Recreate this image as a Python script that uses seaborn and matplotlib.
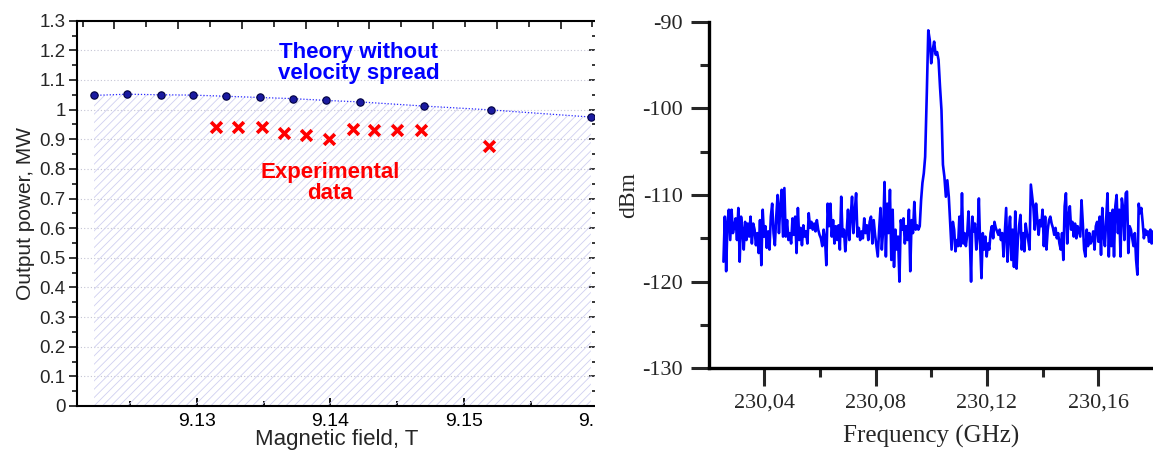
import numpy as np
import matplotlib
matplotlib.use('Agg')
import matplotlib.pyplot as plt
from matplotlib.ticker import MultipleLocator, FixedLocator, FuncFormatter
from matplotlib.patches import Rectangle
import seaborn as sns

# ---------------- left panel: output power vs magnetic field ----------------
theory_field = [9.1223, 9.1248, 9.1273, 9.1297, 9.1322, 9.1347,
                9.1372, 9.1397, 9.1422, 9.1470, 9.1520, 9.1595]
theory_power = [1.048, 1.052, 1.050, 1.049, 1.045, 1.041,
                1.037, 1.031, 1.026, 1.012, 0.999, 0.975]

exp_field = [9.1314, 9.1331, 9.1349, 9.1365, 9.1382, 9.1399,
             9.1417, 9.1433, 9.1450, 9.1468, 9.1519]
exp_power = [0.941, 0.941, 0.941, 0.922, 0.915, 0.900,
             0.936, 0.931, 0.931, 0.931, 0.877]

field_ticks = [9.13, 9.14, 9.15, 9.16]
field_minor = [9.125, 9.135, 9.145, 9.155]
field_labels = ['9.13', '9.14', '9.15', '9.16']

# ---------------- right panel: spectrum (dBm) ----------------
noise_left_f = (230.0253, 230.0978)
noise_left_dbm = [
    -117.7, -112.5, -118.8, -113.1, -111.7, -115.2, -111.7, -114.4, -113.6, -112.7,
    -115.2, -111.5, -117.7, -112.5, -114.0, -116.3, -113.1, -115.2, -113.3, -114.8,
    -112.5, -115.6, -113.3, -114.0, -115.8, -114.4, -116.7, -112.9, -118.1, -111.7,
    -114.8, -113.6, -116.1, -114.2, -116.3, -112.5, -111.0, -114.4, -115.8, -112.5,
    -110.0, -114.4, -111.3, -109.4, -114.8, -109.2, -114.8, -112.9, -115.2, -114.4,
    -115.6, -112.7, -114.6, -112.5, -116.7, -111.5, -115.2, -113.8, -115.8, -113.5,
    -114.8, -114.2, -115.6, -112.1, -113.8, -113.1, -114.0, -113.3, -114.2, -112.9,
    -114.0, -114.6, -115.0,
    -115.9, -114.0, -115.0, -118.1, -111.0, -113.6, -111.0, -114.8, -112.9, -115.6,
    -113.6, -115.2, -113.5, -116.3, -110.2, -114.8, -114.0, -116.5, -114.4, -111.7,
    -115.2, -112.5, -110.2, -114.4, -111.9, -109.8, -114.8, -113.8, -115.2, -114.2,
    -115.0, -112.7, -114.4, -113.5, -115.2, -113.1, -112.5, -115.6, -112.9, -114.6,
    -115.9, -117.1, -114.0, -111.5, -116.3, -114.0, -108.5, -117.1, -111.0, -114.4,
    -109.4, -117.5, -111.7, -118.3, -114.0, -116.3, -114.8, -120.0, -112.9, -114.0,
    -112.7, -115.6, -113.6, -115.2, -111.7, -118.8, -112.9, -114.4, -110.8, -114.0,
    -113.5, -114.0, -113.6, -110.6, -108.6, -107.5, -105.6,
]
peak_f = (230.0984, 230.1063)
peak_dbm = [-98.2, -91.0, -92.1, -94.8, -93.3, -92.3, -93.8, -93.5,
            -94.4, -97.5, -100.2, -106.5, -107.9, -110.2, -108.3, -110.2]
noise_right_f = (230.1073, 230.1797)
noise_right_dbm = [
    -116.3, -113.1, -114.0, -116.5, -115.2, -115.9, -112.5, -115.9, -109.8, -115.6,
    -114.4, -115.9, -114.6, -111.9, -114.8, -120.0, -112.5, -114.2, -113.3, -116.3,
    -114.8, -110.4, -115.8, -119.6, -114.4, -116.3, -114.8, -117.1, -115.6, -116.3,
    -114.4, -113.6, -115.0, -113.1, -113.8, -114.2, -114.6, -114.0, -115.2, -114.4,
    -117.1, -114.2, -111.5, -117.7, -114.4, -112.5, -117.5, -114.0, -118.3, -111.9,
    -118.5, -115.2, -113.5, -112.3, -116.3, -114.4, -116.5, -113.3, -114.4, -115.2,
    -116.3, -108.8, -110.2, -111.5, -114.0, -111.0, -112.9, -114.6, -112.9, -113.6,
    -111.7,
    -115.9, -112.5, -116.3, -114.0, -112.9, -112.5, -113.3, -113.8, -114.6, -113.8,
    -115.0, -114.4, -115.6, -116.3, -114.4, -117.5, -111.3, -109.8, -115.6, -112.5,
    -111.3, -114.0, -113.1, -114.8, -113.3, -115.0, -113.6, -114.2, -114.8, -110.6,
    -113.3, -116.3, -117.1, -114.0, -115.9, -114.4, -115.6, -115.2, -114.2, -116.3,
    -113.6, -113.1, -115.4, -112.5, -116.9, -111.5, -114.6, -115.9, -112.7, -109.8,
    -117.1, -112.1, -115.9, -111.7, -117.1, -111.3, -110.0, -114.4, -111.7, -117.1,
    -110.4, -111.5, -115.2, -109.8, -109.6, -116.7, -113.6, -114.0, -115.0, -115.9,
    -114.4, -117.5, -119.2, -111.0, -112.1, -111.5, -113.1, -115.0, -114.0, -114.6,
    -114.2, -115.4, -114.0, -115.6, -114.2,
]

freq_ticks = [230.04, 230.08, 230.12, 230.16]
freq_minor = [230.02, 230.06, 230.10, 230.14, 230.18]
freq_labels = ['230,04', '230,08', '230,12', '230,16']

# sweep grid of the analyzer, one segment at a time
freq = np.concatenate([
    np.linspace(*noise_left_f, len(noise_left_dbm)),
    np.linspace(*peak_f, len(peak_dbm)),
    np.linspace(*noise_right_f, len(noise_right_dbm)),
])
dbm = np.array(noise_left_dbm + peak_dbm + noise_right_dbm)

sns.set_style('ticks')
plt.rcParams['font.family'] = ['Liberation Sans', 'DejaVu Sans']
plt.rcParams['hatch.linewidth'] = 0.6

fig = plt.figure(figsize=(11.53, 4.5), dpi=100)
ax1 = fig.add_axes([0.0665, 0.0978, 0.4517, 0.8562])
ax2 = fig.add_axes([0.6149, 0.1816, 0.3851, 0.7702])

# ---- left panel ----
ax1.fill_between(theory_field, theory_power, 0, facecolor='none',
                 edgecolor='#d0d0f0', hatch='////', linewidth=0, zorder=1)
ax1.yaxis.grid(True, linestyle=(0, (1, 2)), color='#c4c4d4', linewidth=0.8)
ax1.set_axisbelow(True)
sns.lineplot(x=theory_field, y=theory_power, ax=ax1, color='#2a2aff',
             linestyle=(0, (1, 1.5)), linewidth=0.9, zorder=3)
sns.scatterplot(x=theory_field, y=theory_power, ax=ax1, s=28, color='#1a1aa0',
                edgecolor='#000040', linewidth=0.8, zorder=4)
sns.scatterplot(x=exp_field, y=exp_power, ax=ax1, marker='x', s=60,
                color='#ff0000', linewidth=2.6, zorder=4)

ax1.set_xlim(9.121, 9.16)
ax1.set_ylim(0, 1.3)
ax1.xaxis.set_major_locator(FixedLocator(field_ticks))
ax1.xaxis.set_minor_locator(FixedLocator(field_minor))
ax1.xaxis.set_major_formatter(FuncFormatter(lambda v, p: field_labels[p] if p is not None and p < len(field_labels) else f'{v:.2f}'))
ax1.yaxis.set_major_locator(MultipleLocator(0.1))
ax1.yaxis.set_minor_locator(MultipleLocator(0.05))
ax1.yaxis.set_major_formatter(FuncFormatter(lambda v, p: f'{round(v, 1):g}'))
ax1.tick_params(axis='x', which='both', direction='in', bottom=True, top=False,
                width=1.3, labelsize=14, pad=5, colors='black')
ax1.tick_params(axis='x', which='major', length=6)
ax1.tick_params(axis='x', which='minor', length=3.5)
ax1.tick_params(axis='y', which='both', direction='out', left=True, right=False,
                width=1.3, labelsize=13.5, pad=2)
ax1.tick_params(axis='y', which='major', length=6)
ax1.tick_params(axis='y', which='minor', length=3.5)
for s in ax1.spines.values():
    s.set_linewidth(1.5)
    s.set_color('black')

# inward ticks on the right and top edges
sec_r = ax1.secondary_yaxis('right')
sec_r.yaxis.set_major_locator(MultipleLocator(0.1))
sec_r.yaxis.set_minor_locator(MultipleLocator(0.05))
sec_r.tick_params(which='both', direction='in', labelright=False, width=1.3)
sec_r.tick_params(which='major', length=6)
sec_r.tick_params(which='minor', length=3.5)
for s in sec_r.spines.values():
    s.set_visible(False)

sec_t = ax1.secondary_xaxis('top', functions=(lambda x: (x - 9.12383) / 0.002386,
                                              lambda i: i * 0.002386 + 9.12383))
sec_t.xaxis.set_major_locator(MultipleLocator(2))
sec_t.xaxis.set_minor_locator(MultipleLocator(1))
sec_t.tick_params(which='both', direction='in', labeltop=False, width=1.3)
sec_t.tick_params(which='major', length=5.5)
sec_t.tick_params(which='minor', length=4)
for s in sec_t.spines.values():
    s.set_visible(False)

ax1.set_xlabel('Magnetic field, T', fontsize=16, labelpad=-1)
ax1.set_ylabel('Output power, MW', fontsize=15, labelpad=3)

ax1.text(9.1421, 1.158, 'Theory without\nvelocity spread', color='#0000ff',
         fontweight='bold', fontsize=16, ha='center', va='center', linespacing=1.0)
ax1.text(9.1400, 0.752, 'Experimental\ndata', color='#ff0000',
         fontweight='bold', fontsize=16, ha='center', va='center', linespacing=1.0)

# ---- right panel ----
sns.lineplot(x=freq, y=dbm, ax=ax2, color='#0000ff', linewidth=1.9, estimator=None)
ax2.set_xlim(230.0201, 230.1797)
ax2.set_ylim(-130, -90)
ax2.xaxis.set_major_locator(FixedLocator(freq_ticks))
ax2.xaxis.set_minor_locator(FixedLocator(freq_minor))
ax2.set_xticklabels(freq_labels)
ax2.yaxis.set_major_locator(MultipleLocator(10))
ax2.yaxis.set_minor_locator(MultipleLocator(5))
ax2.yaxis.set_major_formatter(FuncFormatter(lambda v, p: f'{int(round(v))}'))
ax2.tick_params(which='both', direction='out', width=2.2, labelsize=16,
                labelfontfamily='Liberation Serif')
ax2.tick_params(which='major', length=13)
ax2.tick_params(which='minor', length=6.5)
ax2.tick_params(axis='x', pad=5)
ax2.tick_params(axis='y', pad=6)
ax2.spines['top'].set_visible(False)
ax2.spines['right'].set_visible(False)
for side in ['left', 'bottom']:
    ax2.spines[side].set_linewidth(2.4)
    ax2.spines[side].set_color('black')
ax2.set_xlabel('Frequency (GHz)', fontsize=18, family='Liberation Serif', labelpad=9)
ax2.set_ylabel('dBm', fontsize=17, family='Liberation Serif', labelpad=2)

# the left picture is cut off just past its right edge
fig.add_artist(Rectangle((595 / 1153, 0), 24 / 1153, 1, transform=fig.transFigure,
                         facecolor='white', edgecolor='none', zorder=10))

fig.savefig('out.png', dpi=100)
